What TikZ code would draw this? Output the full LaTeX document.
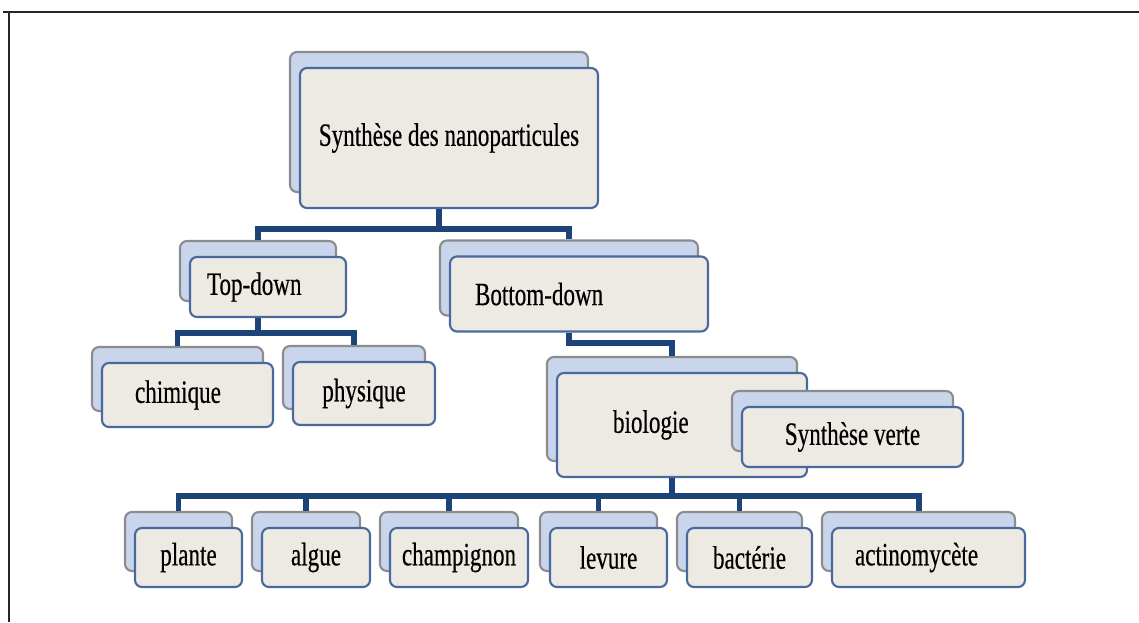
\documentclass[tikz,border=0pt]{standalone}
\usepackage{fontspec}
\setmainfont{Liberation Serif}[FakeStretch=0.71,FakeBold=0.4]
\usetikzlibrary{shadows}

\definecolor{boxfill}{RGB}{236,234,227}
\definecolor{boxline}{RGB}{72,104,158}
\definecolor{backfill}{RGB}{200,213,235}
\definecolor{backline}{RGB}{140,140,140}
\definecolor{linkblue}{RGB}{28,68,120}

\tikzset{
  box/.style={draw=boxline, fill=boxfill, line width=1.2pt, rounded corners=4pt,
    inner sep=0pt, font=\fontsize{18.5}{20}\selectfont,
    copy shadow={shadow xshift=-2mm, shadow yshift=3.2mm, fill=backfill, draw=backline, line width=1.2pt}},
  lefttext/.style 2 args={text width=#1, inner xsep=#2, align=left},
  link/.style={draw=linkblue, line width=3.4pt},
  frame/.style={draw=black!85, line width=1.5pt}
}

\begin{document}
\begin{tikzpicture}
  \useasboundingbox (0,0) rectangle (22.78,12.44);

  % Frame
  \draw[frame] (0.06,12.2) -- (22.78,12.2) (0.18,12.2) -- (0.18,0);

  % Root and first level
  \node[box, minimum width=5.96cm, minimum height=2.8cm] (syn) at (8.98,9.68) {Synthèse des nanoparticules};
  \node[box, lefttext={2.44cm}{0.34cm}, minimum height=1.2cm] (topdown) at (5.36,6.70) {Top-down};
  \node[box, lefttext={4.16cm}{0.5cm}, minimum height=1.5cm] (bottomdown) at (11.58,6.56) {Bottom-down};

  % Second level
  \node[box, lefttext={2.1cm}{0.66cm}, minimum height=1.28cm] (chimique) at (3.75,4.54) {chimique};
  \node[box, minimum width=2.84cm, minimum height=1.26cm] (physique) at (7.28,4.57) {physique};
  \node[box, lefttext={2.76cm}{1.12cm}, minimum height=2.08cm] (biologie) at (13.64,3.94) {biologie};
  \node[box, minimum width=4.42cm, minimum height=1.2cm] (verte) at (17.05,3.70) {Synthèse verte};

  % Organisms
  \foreach \name/\x/\w/\txt in {plante/3.77/2.14/plante, algue/6.32/2.16/algue,
      champignon/9.18/2.76/champignon, levure/12.17/2.34/levure,
      bacterie/14.99/2.5/bactérie}
    \node[box, minimum width=\w cm, minimum height=1.18cm] (\name) at (\x,1.29) {\txt};
  \node[box, lefttext={2.94cm}{0.46cm}, minimum height=1.18cm] (actino) at (18.57,1.29) {actinomycète};

  % Links
  \draw[link] ([xshift=-2mm]syn.south) -- ++(0,-0.4) coordinate (synbar);
  \draw[link] (synbar) -| ([xshift=-2mm,yshift=3.2mm]topdown.north);
  \draw[link] (synbar) -| ([xshift=-2mm,yshift=3.2mm]bottomdown.north);

  \draw[link] ([xshift=-2mm]topdown.south) -- ++(0,-0.3) coordinate (tdbar);
  \draw[link] (tdbar) -| ([xshift=-2mm,yshift=3.2mm]chimique.north);
  \draw[link] (tdbar) -| ([xshift=-2mm,yshift=3.2mm]physique.north);

  \draw[link] ([xshift=-2mm]bottomdown.south) -- ++(0,-0.2) -| ([xshift=-2mm,yshift=3.2mm]biologie.north);

  \draw[link] ([xshift=-2mm]biologie.south) -- ++(0,-0.36) coordinate (biobar);
  \foreach \name in {plante,algue,champignon,levure,bacterie,actino}
    \draw[link] (biobar) -| ([xshift=-2mm,yshift=3.2mm]\name.north);

\end{tikzpicture}
\end{document}
